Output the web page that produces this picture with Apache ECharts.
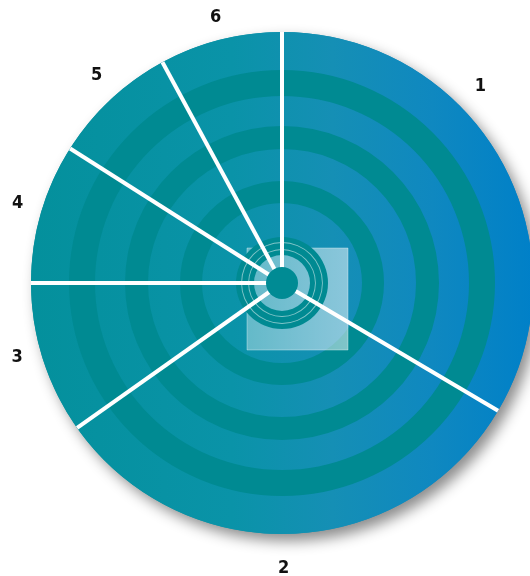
<!DOCTYPE html>
<html>
<head>
<meta charset="utf-8">
<script src="https://cdn.jsdelivr.net/npm/echarts@6/dist/echarts.min.js"></script>
<style>
html,body{margin:0;padding:0;background:#fff;}
#chart{width:530px;height:576px;}
</style>
</head>
<body>
<div id="chart"></div>
<script>
// ---- data ----
const categories = ['1', '2', '3', '4', '5', '6'];
const values = [33.5, 31.7, 9.8, 9.0, 8.1, 7.9];

// ---- layout / style ----
const CX = 282, CY = 283, R = 251;
const LABEL_R = 278;
const labelAngleShift = [-15, 2, 2, 0.5, 1.2, 0.2]; // degrees
const labelRadiusShift = [1, 7, -3, -2, 0, -4];
const darkRings = [[80, 102], [134, 157], [187, 213]];
const innerRing = [28, 46];
const thinCircles = [33, 40];
const HOLE = 16;
const DARK = '#008a92';

const total = values.reduce((s, v) => s + v, 0);
const boundaries = [];
const mids = [];
{
  let acc = 0;
  values.forEach(v => { boundaries.push(acc); mids.push(acc + v / 2); acc += v; });
}

const baseGradient = {
  type: 'linear', global: true,
  x: CX - R, y: 0, x2: CX + R, y2: 0,
  colorStops: [
    { offset: 0, color: '#04909c' },
    { offset: 0.4, color: '#0a93a8' },
    { offset: 0.6, color: '#158fb5' },
    { offset: 0.8, color: '#0f88c0' },
    { offset: 1, color: '#0080c8' }
  ]
};

const pieData = categories.map((c, i) => ({ name: c, value: values[i] }));

const series = [];
// shadow disc
series.push({
  type: 'pie', silent: true, z: 1, center: [CX, CY], radius: [0, R],
  label: { show: false }, labelLine: { show: false },
  itemStyle: { color: baseGradient, shadowBlur: 14, shadowOffsetX: 6, shadowOffsetY: 7, shadowColor: 'rgba(0,0,0,0.45)' },
  data: [{ value: 1 }]
});
// base slices + labels
series.push({
  type: 'pie', silent: true, z: 2, center: [CX, CY], radius: [0, R],
  avoidLabelOverlap: false,
  itemStyle: { color: baseGradient, borderWidth: 0 },
  label: {
    show: true, position: 'outside', formatter: '{b}', overflow: 'none',
    fontFamily: '"DejaVu Sans Condensed", "Liberation Sans", sans-serif',
    fontWeight: 'bold', fontSize: 18, color: '#111'
  },
  labelLine: { show: false, length: 2, length2: 0 },
  labelLayout: function (p) {
    const i = p.dataIndex;
    const deg = mids[i] / total * 360 + labelAngleShift[i];
    const a = deg * Math.PI / 180;
    const r = LABEL_R + labelRadiusShift[i];
    return {
      x: CX + r * Math.sin(a),
      y: CY - r * Math.cos(a),
      align: 'center', verticalAlign: 'middle'
    };
  },
  data: pieData
});
// dark rings
darkRings.forEach(r => series.push({
  type: 'pie', silent: true, z: 2, center: [CX, CY], radius: r,
  label: { show: false }, labelLine: { show: false },
  itemStyle: { color: DARK, borderWidth: 0 },
  data: [{ value: 1 }]
}));
// inner ring
series.push({
  type: 'pie', silent: true, z: 4, center: [CX, CY], radius: innerRing,
  label: { show: false }, labelLine: { show: false },
  itemStyle: { color: DARK, borderWidth: 0 },
  data: [{ value: 1 }]
});
thinCircles.forEach(r => series.push({
  type: 'pie', silent: true, z: 4, center: [CX, CY], radius: [r, r + 0.9],
  label: { show: false }, labelLine: { show: false },
  itemStyle: { color: 'rgba(255,255,255,0.5)', borderWidth: 0 },
  data: [{ value: 1 }]
}));
// white separators between slices, drawn through the polar scale
series.push({
  type: 'custom', coordinateSystem: 'polar', silent: true, z: 5,
  data: boundaries.map(b => [1, b]),
  renderItem: function (params, api) {
    const a = api.value(1);
    const p0 = api.coord([0, a]);
    const p1 = api.coord([1, a]);
    return {
      type: 'line',
      shape: { x1: p0[0], y1: p0[1], x2: p1[0], y2: p1[1] },
      style: { stroke: '#ffffff', lineWidth: 4, lineCap: 'butt' }
    };
  }
});
// center hole
series.push({
  type: 'pie', silent: true, z: 6, center: [CX, CY], radius: [0, HOLE],
  label: { show: false }, labelLine: { show: false },
  itemStyle: { color: '#008b94', borderWidth: 0 },
  data: [{ value: 1 }]
});

const chart = echarts.init(document.getElementById('chart'), null, { renderer: 'canvas' });
chart.setOption({
  animation: false,
  backgroundColor: '#ffffff',
  polar: { center: [CX, CY], radius: R },
  angleAxis: { type: 'value', min: 0, max: total, startAngle: 90, clockwise: true, show: false },
  radiusAxis: { type: 'value', min: 0, max: 1, show: false },
  graphic: [{
    type: 'rect', z: 3, silent: true,
    shape: { x: CX - 35, y: CY - 35, width: 101, height: 102 },
    style: {
      fill: {
        type: 'linear', x: 0, y: 0, x2: 1, y2: 0,
        colorStops: [
          { offset: 0, color: 'rgba(255,255,255,0.36)' },
          { offset: 1, color: 'rgba(255,255,255,0.5)' }
        ]
      },
      stroke: 'rgba(255,255,255,0.35)', lineWidth: 1
    }
  }],
  series: series
});
</script>
</body>
</html>
